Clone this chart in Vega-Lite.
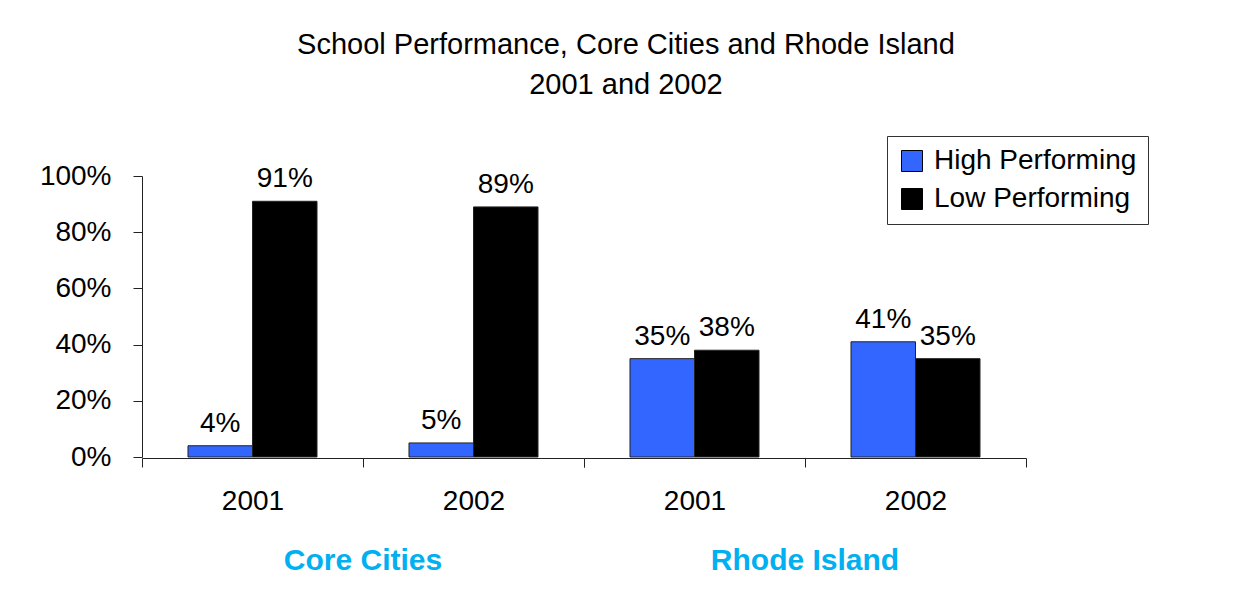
{
  "$schema": "https://vega.github.io/schema/vega-lite/v6.json",
  "padding": {"left": 39, "top": 30, "right": 5, "bottom": 5},
  "background": "white",
  "title": {
    "text": ["School Performance, Core Cities and Rhode Island", "2001 and 2002"],
    "font": "Liberation Sans",
    "fontSize": 29,
    "fontWeight": "normal",
    "color": "black",
    "lineHeight": 40,
    "anchor": "middle",
    "offset": 36,
    "dx": 32
  },
  "data": {
    "values": [
      {"region": "Core Cities", "year": "2001", "series": "High Performing", "value": 0.04},
      {"region": "Core Cities", "year": "2001", "series": "Low Performing", "value": 0.91},
      {"region": "Core Cities", "year": "2002", "series": "High Performing", "value": 0.05},
      {"region": "Core Cities", "year": "2002", "series": "Low Performing", "value": 0.89},
      {"region": "Rhode Island", "year": "2001", "series": "High Performing", "value": 0.35},
      {"region": "Rhode Island", "year": "2001", "series": "Low Performing", "value": 0.38},
      {"region": "Rhode Island", "year": "2002", "series": "High Performing", "value": 0.41},
      {"region": "Rhode Island", "year": "2002", "series": "Low Performing", "value": 0.35}
    ]
  },
  "facet": {
    "column": {
      "field": "region",
      "type": "nominal",
      "sort": ["Core Cities", "Rhode Island"],
      "header": {
        "title": null,
        "labelOrient": "bottom",
        "labelFont": "Liberation Sans",
        "labelFontSize": 30,
        "labelFontWeight": "bold",
        "labelColor": "#00B0F0",
        "labelPadding": 31
      }
    }
  },
  "spacing": 0,
  "spec": {
    "width": 442,
    "height": 281,
    "layer": [
      {
        "mark": {"type": "bar", "stroke": "#222222", "strokeWidth": 1},
        "encoding": {
          "x": {
            "field": "year",
            "type": "nominal",
            "scale": {"paddingInner": 0, "paddingOuter": 0},
            "axis": {
              "title": null,
              "labelAngle": 0,
              "labelFont": "Liberation Sans",
              "labelFontSize": 28,
              "labelColor": "black",
              "labelPadding": 20,
              "tickBand": "extent",
              "tickSize": 9,
              "tickColor": "#222222",
              "domainColor": "#222222"
            }
          },
          "xOffset": {
            "field": "series",
            "type": "nominal",
            "sort": ["High Performing", "Low Performing"],
            "scale": {"paddingInner": 0, "paddingOuter": 0.713}
          },
          "y": {
            "field": "value",
            "type": "quantitative",
            "scale": {"domain": [0, 1], "nice": false},
            "axis": {
              "title": null,
              "values": [0, 0.2, 0.4, 0.6, 0.8, 1],
              "format": ".0%",
              "grid": false,
              "labelFont": "Liberation Sans",
              "labelFontSize": 28,
              "labelColor": "black",
              "labelPadding": 22,
              "tickSize": 9,
              "tickColor": "#222222",
              "domainColor": "#222222"
            }
          },
          "color": {
            "field": "series",
            "type": "nominal",
            "scale": {"domain": ["High Performing", "Low Performing"], "range": ["#3366FF", "#000000"]},
            "legend": {
              "title": null,
              "orient": "none",
              "legendX": 745,
              "legendY": -40,
              "strokeColor": "#333333",
              "fillColor": "white",
              "padding": 11,
              "symbolType": "square",
              "symbolSize": 440,
              "symbolStrokeColor": "black",
              "symbolStrokeWidth": 1,
              "labelFont": "Liberation Sans",
              "labelFontSize": 28,
              "labelColor": "black",
              "labelOffset": 8,
              "labelLimit": 400,
              "rowPadding": 10
            }
          }
        }
      },
      {
        "mark": {"type": "text", "font": "Liberation Sans", "fontSize": 28, "color": "black", "baseline": "alphabetic", "dy": -14},
        "encoding": {
          "x": {"field": "year", "type": "nominal"},
          "xOffset": {"field": "series", "type": "nominal", "sort": ["High Performing", "Low Performing"]},
          "y": {"field": "value", "type": "quantitative"},
          "text": {"field": "value", "type": "quantitative", "format": ".0%"}
        }
      }
    ]
  },
  "config": {
    "view": {"stroke": null}
  }
}
